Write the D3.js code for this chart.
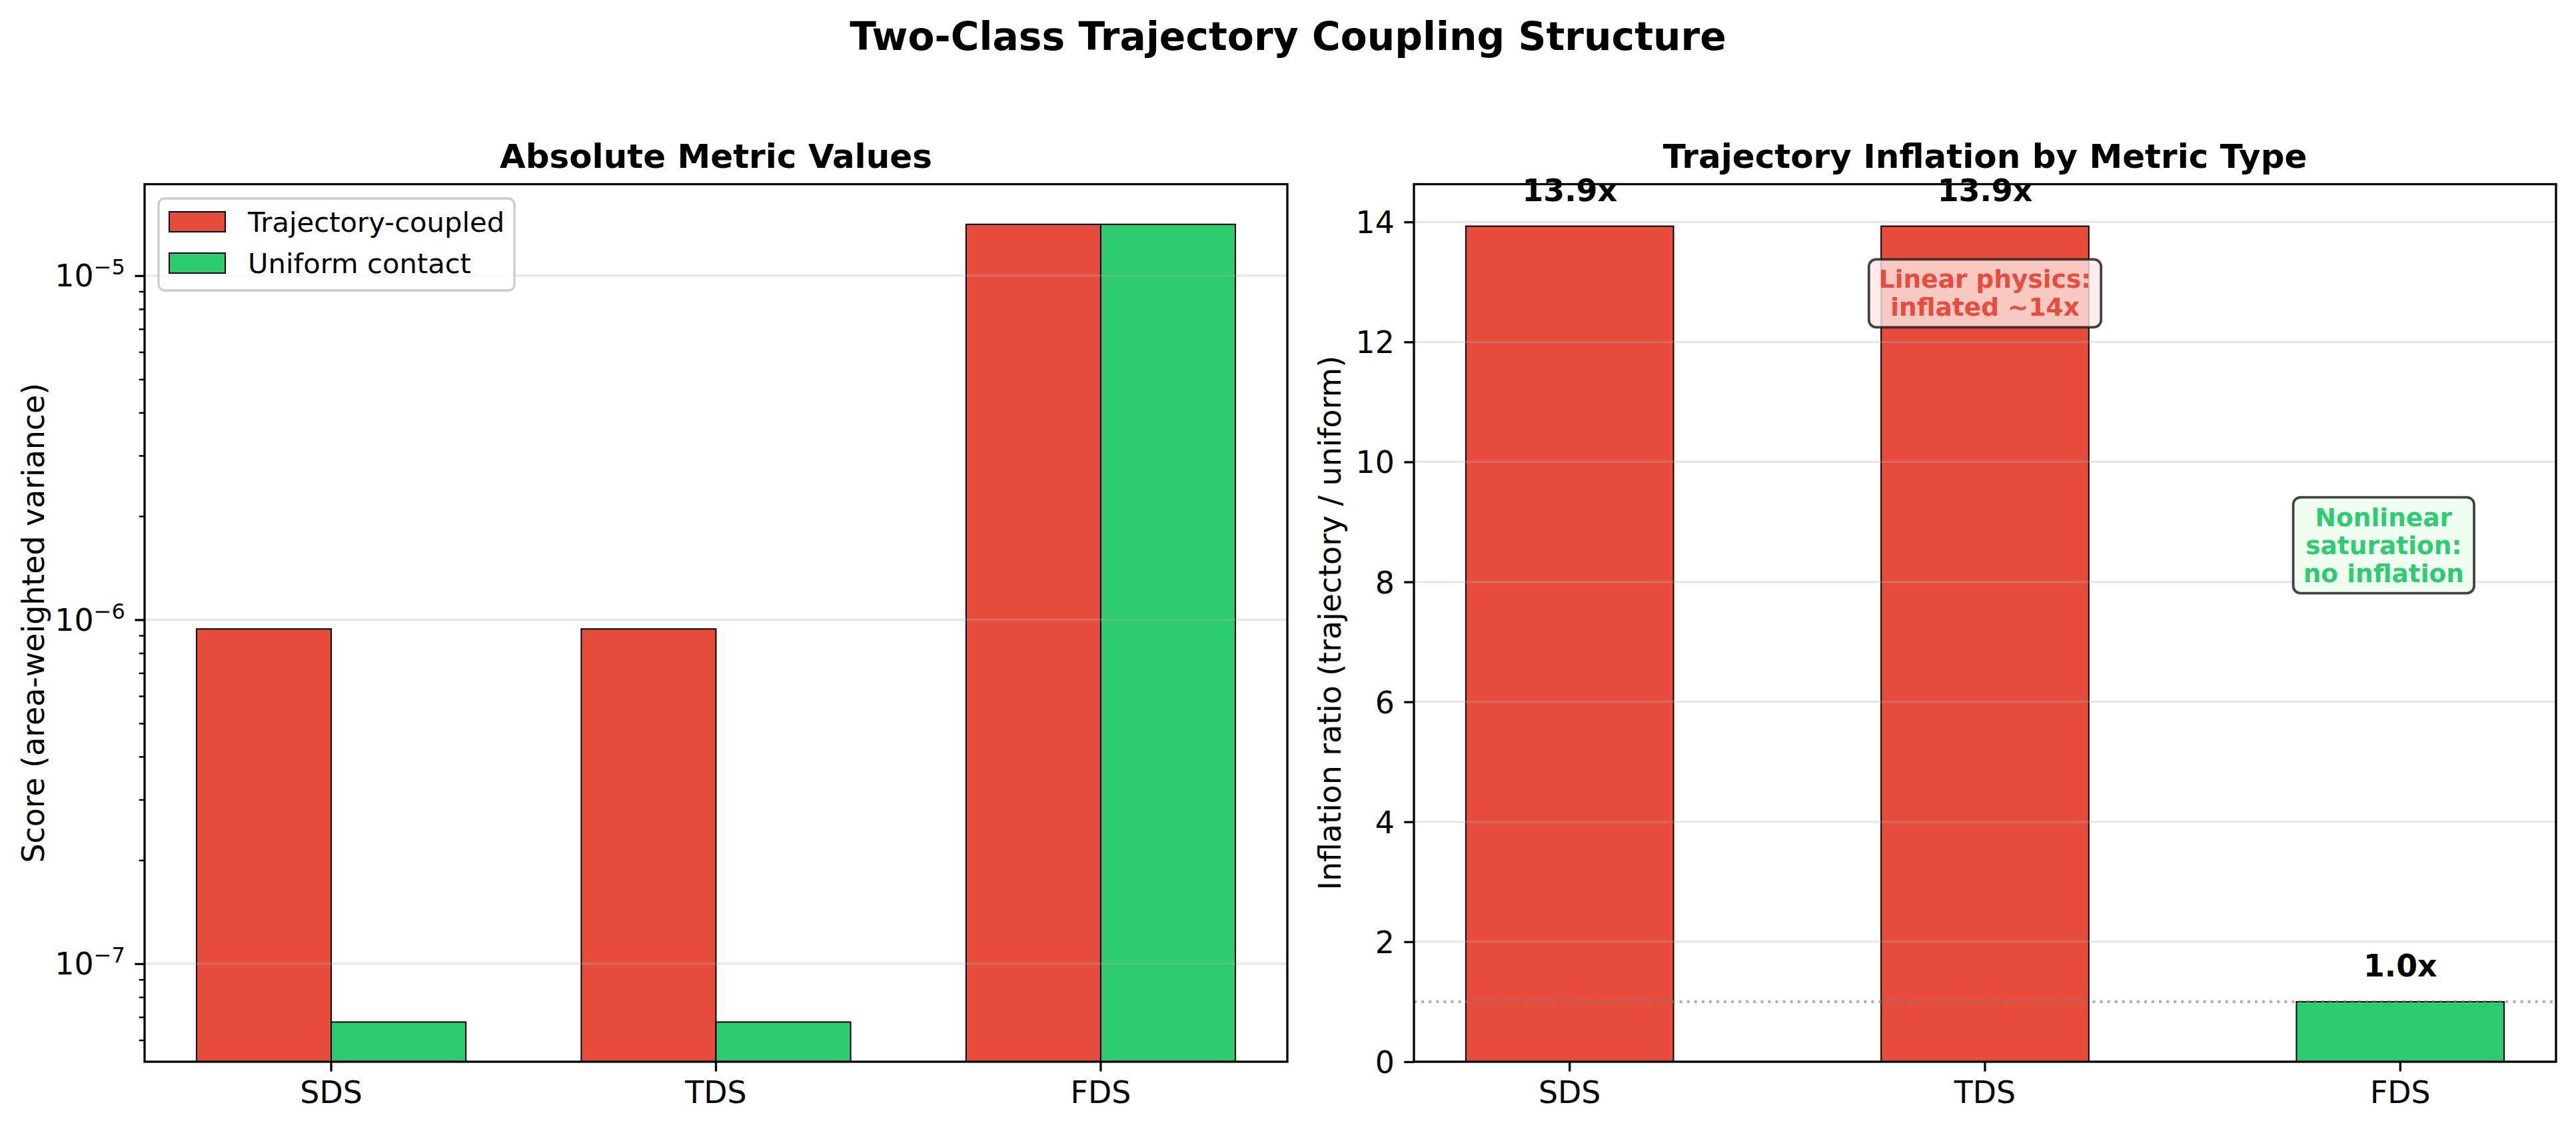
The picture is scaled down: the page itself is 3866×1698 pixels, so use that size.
<!DOCTYPE html>
<html>
<head>
<meta charset="utf-8">
<script src="https://cdnjs.cloudflare.com/ajax/libs/d3/7.8.5/d3.min.js"></script>
<style>
  body { margin: 0; background: #fff; }
  svg { display: block; font-family: "DejaVu Sans", sans-serif; }
</style>
</head>
<body>
<div id="chart"></div>
<script>
// data
var categories = ["SDS", "TDS", "FDS"];
var trajectoryCoupled = [9.4e-7, 9.4e-7, 1.41e-5];
var uniformContact = [6.77e-8, 6.77e-8, 1.41e-5];
var inflationRatio = [13.93, 13.93, 1.0];
var metricClass = ["linear", "linear", "nonlinear"];
var logTicks = [1e-7, 1e-6, 1e-5];
var logExponents = ["−7", "−6", "−5"];
var ratioTicks = [0, 2, 4, 6, 8, 10, 12, 14];
var seriesNames = ["Trajectory-coupled", "Uniform contact"];
var annotations = [
    {x: 1.0, y: 12.8, lines: ["Linear physics:", "inflated ~14x"], kind: "linear"},
    {x: 1.96, y: 8.6, lines: ["Nonlinear", "saturation:", "no inflation"], kind: "nonlinear"}
];

var W = 3866, H = 1698;
var RED = "#e74c3c", GREEN = "#2ecc71";
var colorOf = {linear: RED, nonlinear: GREEN};
var boxFill = {linear: "rgb(252,231,229)", nonlinear: "rgb(236,252,238)"};

var top_ = 276.5, bottom = 1594;
var L = {left: 217, right: 1932};
var R = {left: 2122, right: 3836};
var lw = 3.3;               // spine / tick width (0.8pt at 300dpi)
var tickFont = 45.8, labelFont = 45.8, titleFont = 50;

var svg = d3.select("#chart").append("svg").attr("width", W).attr("height", H);

// suptitle
svg.append("text").attr("x", W / 2).attr("y", 75).attr("text-anchor", "middle")
    .attr("font-size", 58.3).attr("font-weight", "bold").text("Two-Class Trajectory Coupling Structure");

// ---------- left panel: absolute values (log) ----------
var xL = d3.scaleBand().domain(categories).range([L.left, L.right]).paddingInner(0.3).paddingOuter(0.135);
var yL = d3.scaleLog().domain([5.19e-8, 1.845e-5]).range([bottom, top_]);
var bw = xL.bandwidth() / 2;

var gL = svg.append("g");
gL.selectAll(".bt").data(categories).enter().append("rect")
    .attr("x", d => xL(d)).attr("width", bw)
    .attr("y", (d, i) => yL(trajectoryCoupled[i])).attr("height", (d, i) => bottom - yL(trajectoryCoupled[i]))
    .attr("fill", RED).attr("stroke", "#000").attr("stroke-width", 2);
gL.selectAll(".bu").data(categories).enter().append("rect")
    .attr("x", d => xL(d) + bw).attr("width", bw)
    .attr("y", (d, i) => yL(uniformContact[i])).attr("height", (d, i) => bottom - yL(uniformContact[i]))
    .attr("fill", GREEN).attr("stroke", "#000").attr("stroke-width", 2);

// grid
gL.selectAll(".grid").data(logTicks).enter().append("line")
    .attr("x1", L.left).attr("x2", L.right).attr("y1", d => yL(d)).attr("y2", d => yL(d))
    .attr("stroke", "#b0b0b0").attr("stroke-opacity", 0.3).attr("stroke-width", lw);

// minor ticks
var minor = [];
[-8, -7, -6, -5].forEach(function (e) {
    for (var m = 2; m <= 9; m++) {
        var v = m * Math.pow(10, e);
        if (v >= yL.domain()[0] && v <= yL.domain()[1]) minor.push(v);
    }
});
var axMinor = gL.append("g").attr("transform", "translate(" + L.left + ",0)")
    .call(d3.axisLeft(yL).tickValues(minor).tickSize(8.3).tickFormat(""));
axMinor.select(".domain").remove();
axMinor.selectAll("line").attr("stroke-width", 2.5);

var axLY = gL.append("g").attr("transform", "translate(" + L.left + ",0)")
    .call(d3.axisLeft(yL).tickValues(logTicks).tickSize(14.6).tickPadding(14.6));
axLY.select(".domain").remove();
axLY.selectAll("line").attr("stroke-width", lw);
axLY.selectAll("text").each(function (d, i) {
    var t = d3.select(this).text("").attr("font-size", tickFont).attr("font-family", "DejaVu Sans")
        .attr("dy", "0.35em").attr("fill", "#000");
    t.append("tspan").text("10");
    t.append("tspan").attr("dy", -18).attr("font-size", 32).text(logExponents[i]);
});

var axLX = gL.append("g").attr("transform", "translate(0," + bottom + ")")
    .call(d3.axisBottom(xL).tickSize(14.6).tickPadding(14.6));
axLX.select(".domain").remove();
axLX.selectAll("line").attr("stroke-width", lw);
axLX.selectAll("text").attr("font-size", tickFont).attr("font-family", "DejaVu Sans").attr("fill", "#000");

gL.append("rect").attr("x", L.left).attr("y", top_).attr("width", L.right - L.left).attr("height", bottom - top_)
    .attr("fill", "none").attr("stroke", "#000").attr("stroke-width", lw);

gL.append("text").attr("x", (L.left + L.right) / 2).attr("y", 252).attr("text-anchor", "middle")
    .attr("font-size", titleFont).attr("font-weight", "bold").text("Absolute Metric Values");
gL.append("text").attr("transform", "translate(66," + (top_ + bottom) / 2 + ") rotate(-90)")
    .attr("text-anchor", "middle").attr("font-size", labelFont).text("Score (area-weighted variance)");

// legend
var leg = gL.append("g");
leg.append("rect").attr("x", 238).attr("y", 298).attr("width", 534).attr("height", 138).attr("rx", 9)
    .attr("fill", "#fff").attr("fill-opacity", 0.8).attr("stroke", "#cccccc").attr("stroke-width", 3.3);
seriesNames.forEach(function (name, i) {
    var cy = 333 + i * 62;
    leg.append("rect").attr("x", 254).attr("y", cy - 15).attr("width", 84).attr("height", 30)
        .attr("fill", i === 0 ? RED : GREEN).attr("stroke", "#000").attr("stroke-width", 2);
    leg.append("text").attr("x", 372).attr("y", cy + 15).attr("font-size", 41.7).text(name);
});

// ---------- right panel: inflation ratio ----------
var xR = d3.scaleBand().domain(categories).range([R.left, R.right]).paddingInner(0.5).paddingOuter(0.125);
var yR = d3.scaleLinear().domain([0, 14.63]).range([bottom, top_]);
// category index -> pixel centre, for the annotations placed in data units
var xRc = d3.scaleLinear().domain([0, 2])
    .range([xR(categories[0]) + xR.bandwidth() / 2, xR(categories[2]) + xR.bandwidth() / 2]);

var gR = svg.append("g");
gR.selectAll(".br").data(categories).enter().append("rect")
    .attr("x", d => xR(d)).attr("width", xR.bandwidth())
    .attr("y", (d, i) => yR(inflationRatio[i])).attr("height", (d, i) => bottom - yR(inflationRatio[i]))
    .attr("fill", (d, i) => colorOf[metricClass[i]]).attr("stroke", "#000").attr("stroke-width", 2);

gR.selectAll(".grid").data(ratioTicks).enter().append("line")
    .attr("x1", R.left).attr("x2", R.right).attr("y1", d => yR(d)).attr("y2", d => yR(d))
    .attr("stroke", "#b0b0b0").attr("stroke-opacity", 0.3).attr("stroke-width", lw);

// parity line at 1
gR.append("line").attr("x1", R.left).attr("x2", R.right).attr("y1", yR(1)).attr("y2", yR(1))
    .attr("stroke", "gray").attr("stroke-opacity", 0.6).attr("stroke-width", 4.17)
    .attr("stroke-dasharray", "4.17,6.9");

var axRY = gR.append("g").attr("transform", "translate(" + R.left + ",0)")
    .call(d3.axisLeft(yR).tickValues(ratioTicks).tickSize(14.6).tickPadding(14.6));
axRY.select(".domain").remove();
axRY.selectAll("line").attr("stroke-width", lw);
axRY.selectAll("text").attr("font-size", tickFont).attr("font-family", "DejaVu Sans").attr("fill", "#000").attr("dy", "0.36em");

var axRX = gR.append("g").attr("transform", "translate(0," + bottom + ")")
    .call(d3.axisBottom(xR).tickSize(14.6).tickPadding(14.6));
axRX.select(".domain").remove();
axRX.selectAll("line").attr("stroke-width", lw);
axRX.selectAll("text").attr("font-size", tickFont).attr("font-family", "DejaVu Sans").attr("fill", "#000");

gR.append("rect").attr("x", R.left).attr("y", top_).attr("width", R.right - R.left).attr("height", bottom - top_)
    .attr("fill", "none").attr("stroke", "#000").attr("stroke-width", lw);

// value labels
gR.selectAll(".vl").data(categories).enter().append("text")
    .attr("x", d => xR(d) + xR.bandwidth() / 2)
    .attr("y", (d, i) => yR(inflationRatio[i] + 0.3) - 10.8)
    .attr("text-anchor", "middle").attr("font-size", tickFont).attr("font-weight", "bold")
    .text((d, i) => inflationRatio[i].toFixed(1) + "x");

// annotation boxes
annotations.forEach(function (a) {
    var g = gR.append("g");
    var cx = xRc(a.x), cy = yR(a.y);
    var lh = 42, n = a.lines.length;
    var box = g.append("rect");
    var t = g.append("text").attr("text-anchor", "middle").attr("font-size", 37.5).attr("font-weight", "bold")
        .attr("fill", colorOf[a.kind]);
    a.lines.forEach(function (s, k) {
        t.append("tspan").attr("x", cx).attr("y", cy - (n - 1) * lh / 2 + 12 + k * lh).text(s);
    });
    var bb = t.node().getBBox();
    box.attr("x", bb.x - 15).attr("y", bb.y - 8).attr("width", bb.width + 30).attr("height", bb.height + 16)
        .attr("rx", 11).attr("fill", boxFill[a.kind]).attr("fill-opacity", 0.8)
        .attr("stroke", "#222").attr("stroke-opacity", 0.85).attr("stroke-width", 3.8);
});

gR.append("text").attr("x", (R.left + R.right) / 2).attr("y", 252).attr("text-anchor", "middle")
    .attr("font-size", titleFont).attr("font-weight", "bold").text("Trajectory Inflation by Metric Type");
gR.append("text").attr("transform", "translate(2012," + (top_ + bottom) / 2 + ") rotate(-90)")
    .attr("text-anchor", "middle").attr("font-size", labelFont).text("Inflation ratio (trajectory / uniform)");
</script>
</body>
</html>
